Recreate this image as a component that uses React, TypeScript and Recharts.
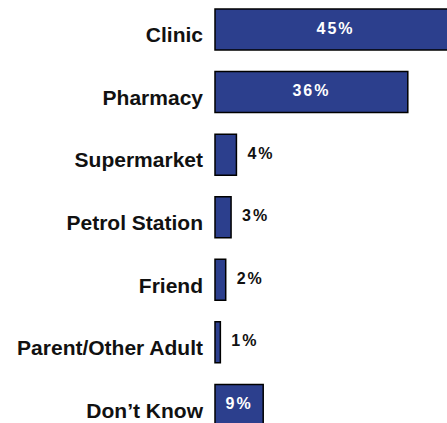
import React from 'react';
import { BarChart, Bar, XAxis, YAxis, LabelList } from 'recharts';

const places = ['Clinic', 'Pharmacy', 'Supermarket', 'Petrol Station', 'Friend', 'Parent/Other Adult', 'Don\u2019t Know'];
const shares = [45, 36, 4, 3, 2, 1, 9];

const data = places.map((place, i) => ({ place, share: shares[i] }));

const FONT = '"Liberation Sans", Arial, Helvetica, sans-serif';

const PlaceTick = (props: any) => {
  const { x, y, payload } = props;
  return (
    <text x={x} y={y} dy={13} textAnchor="end" fontFamily={FONT} fontWeight="bold" fontSize={21} fill="#111">
      {payload.value}
    </text>
  );
};

const ShareLabel = (props: any) => {
  const { x, y, width, height, value } = props;
  const inside = value >= 9;
  const cx = inside ? x + width / 2 : x + width + 11;
  return (
    <text
      x={cx}
      y={y + height / 2}
      dy={4}
      textAnchor={inside ? 'middle' : 'start'}
      fontFamily={FONT}
      fontWeight="bold"
      fontSize={16}
      letterSpacing={2}
      fill={inside ? '#fff' : '#111'}
    >
      {value}%
    </text>
  );
};

export default function App() {
  return (
    <div style={{ position: 'absolute', left: 0, top: 0, width: 447, height: 423, overflow: 'hidden', background: '#fff' }}>
      <div style={{ position: 'absolute', left: 0, top: -2 }}>
        <BarChart
          width={480}
          height={438}
          data={data}
          layout="vertical"
          margin={{ top: 0, right: 24, bottom: 0, left: 0 }}
        >
          <XAxis type="number" domain={[0, 45]} hide />
          <YAxis
            type="category"
            dataKey="place"
            width={215}
            axisLine={false}
            tickLine={false}
            tickSize={0}
            tickMargin={12}
            tick={<PlaceTick />}
            interval={0}
          />
          <Bar dataKey="share" fill="#2C3F8D" stroke="#000" strokeWidth={1.5} barSize={41} isAnimationActive={false}>
            <LabelList dataKey="share" content={<ShareLabel />} />
          </Bar>
        </BarChart>
      </div>
    </div>
  );
}
